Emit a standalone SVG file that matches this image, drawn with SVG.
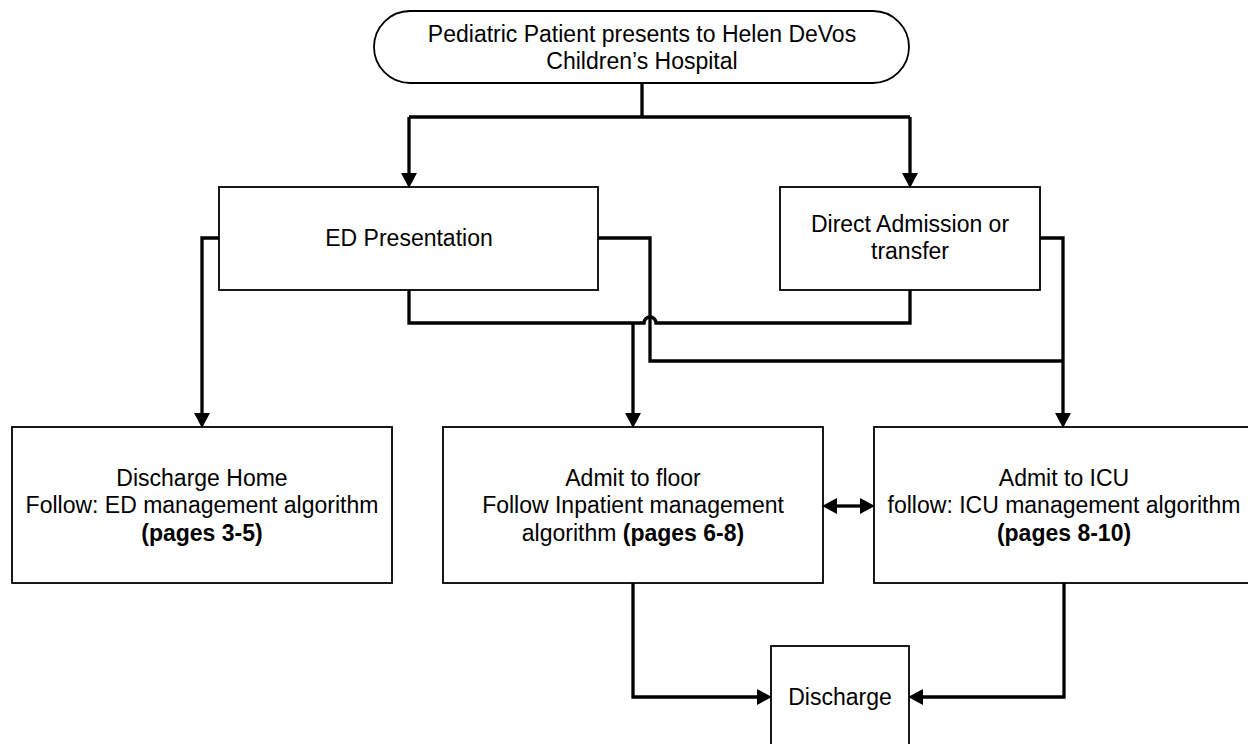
<svg xmlns="http://www.w3.org/2000/svg" width="1248" height="744" viewBox="0 0 1248 744">
<style>
  .box { fill: #ffffff; stroke: #000000; stroke-width: 1.8; }
  .t { font-family: "Liberation Sans", Arial, sans-serif; font-size: 23px; fill: #000000; text-anchor: middle; }
  .b { font-weight: bold; }
  .c { fill: none; stroke: #000000; stroke-width: 3.3; stroke-linejoin: miter; }
</style>
<defs>
  <marker id="ah" markerUnits="userSpaceOnUse" markerWidth="16" markerHeight="16" refX="0" refY="7.5" orient="auto-start-reverse" viewBox="0 0 14 15">
    <path d="M0,0 L14,7.5 L0,15 z" fill="#000000"/>
  </marker>
</defs>
<rect width="1248" height="744" fill="#ffffff"/>

<g id="start">
  <rect class="box" x="374" y="11" width="535" height="72" rx="36" ry="36"/>
  <text class="t" x="642" y="42">Pediatric Patient presents to Helen DeVos</text>
  <text class="t" x="642" y="69">Children’s Hospital</text>
</g>

<g id="ed">
  <rect class="box" x="219" y="187" width="379" height="103"/>
  <text class="t" x="409" y="246">ED Presentation</text>
</g>

<g id="direct">
  <rect class="box" x="780" y="187" width="260" height="103"/>
  <text class="t" x="910" y="232">Direct Admission or</text>
  <text class="t" x="910" y="259">transfer</text>
</g>

<g id="discharge-home">
  <rect class="box" x="12" y="427" width="380" height="156"/>
  <text class="t" x="202" y="486">Discharge Home</text>
  <text class="t" x="202" y="513">Follow: ED management algorithm</text>
  <text class="t b" x="202" y="541">(pages 3-5)</text>
</g>

<g id="floor">
  <rect class="box" x="443" y="427" width="380" height="156"/>
  <text class="t" x="633" y="486">Admit to floor</text>
  <text class="t" x="633" y="513">Follow Inpatient management</text>
  <text class="t" x="633" y="541">algorithm <tspan class="b">(pages 6-8)</tspan></text>
</g>

<g id="icu">
  <rect class="box" x="874" y="427" width="380" height="156"/>
  <text class="t" x="1064" y="486">Admit to ICU</text>
  <text class="t" x="1064" y="513">follow: ICU management algorithm</text>
  <text class="t b" x="1064" y="541">(pages 8-10)</text>
</g>

<g id="discharge">
  <rect class="box" x="771" y="646" width="138" height="110"/>
  <text class="t" x="840" y="705">Discharge</text>
</g>

<g id="connectors">
  <path class="c" d="M642,83 V117"/>
  <path class="c" d="M409,117 H910"/>
  <path class="c" d="M409,117 V173" marker-end="url(#ah)"/>
  <path class="c" d="M910,117 V173" marker-end="url(#ah)"/>
  <path class="c" d="M219,238 H202 V413" marker-end="url(#ah)"/>
  <path class="c" d="M409,290 V323 H644 A6,6 0 0 1 656,323 H910 V290"/>
  <path class="c" d="M633,323 V413" marker-end="url(#ah)"/>
  <path class="c" d="M598,238 H650 V361 H1063"/>
  <path class="c" d="M1040,238 H1063 V413" marker-end="url(#ah)"/>
  <path class="c" d="M837,506 H860" marker-start="url(#ah)" marker-end="url(#ah)"/>
  <path class="c" d="M633,583 V697 H757" marker-end="url(#ah)"/>
  <path class="c" d="M1064,583 V697 H923" marker-end="url(#ah)"/>
</g>
</svg>
